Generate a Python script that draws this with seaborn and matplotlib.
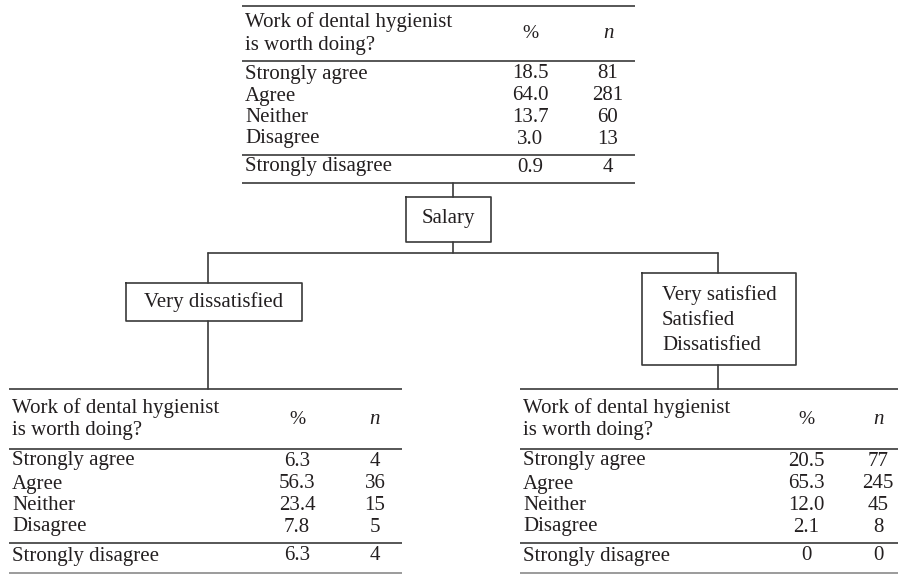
import matplotlib
matplotlib.use("Agg")
import matplotlib.pyplot as plt
import seaborn as sns

# data
responses = ["Strongly agree", "Agree", "Neither", "Disagree", "Strongly disagree"]
overall_pct = [18.5, 64.0, 13.7, 3.0, 0.9]
overall_n = [81, 281, 60, 13, 4]
very_dissat_pct = [6.3, 56.3, 23.4, 7.8, 6.3]
very_dissat_n = [4, 36, 15, 5, 4]
other_pct = [20.5, 65.3, 12.0, 2.1, 0]
other_n = [77, 245, 45, 8, 0]
header = ["Work of dental hygienist\nis worth doing?", "%", "n"]
split_label = "Salary"
branch_labels = ["Very dissatisfied", "Very satisfied\nSatisfied\nDissatisfied"]

sns.set_theme(style="white")
plt.rcParams["font.family"] = ["Liberation Serif", "DejaVu Serif"]
ink = "#231f20"
rule = "#3a3a3a"
fs = 15

fig = plt.figure(figsize=(8.98, 5.75), dpi=100)
ax = fig.add_axes([0, 0, 1, 1])
ax.set_xlim(0, 898)
ax.set_ylim(575, 0)
ax.axis("off")


def fmt(v):
    return f"{v:.1f}" if v else "0"


def table(x0, y0, pct, n, rules, rows, cols=(288, 366), w=393, last="#3a3a3a"):
    for i, dy in enumerate(rules):
        ax.plot([x0, x0 + w], [y0 + dy, y0 + dy], color=last if i == 3 else rule,
                lw=1.2, solid_capstyle="butt")
    hy = y0 + rules[1] / 2
    ax.text(x0 + 3, hy, header[0], fontsize=fs, color=ink, va="center",
            ha="left", linespacing=1.25)
    ax.text(x0 + cols[0], hy, header[1], fontsize=fs - 1, color=ink, va="center", ha="center")
    ax.text(x0 + cols[1], hy, header[2], fontsize=fs, color=ink, va="center", ha="center",
            style="italic")
    for lab, p, k, dy in zip(responses, pct, n, rows):
        ax.text(x0 + 3, y0 + dy, lab, fontsize=fs, color=ink, va="center", ha="left")
        ax.text(x0 + cols[0], y0 + dy, fmt(p), fontsize=fs, color=ink, va="center", ha="center")
        ax.text(x0 + cols[1], y0 + dy, str(k), fontsize=fs, color=ink, va="center", ha="center")


def box(x0, x1, y0, y1):
    ax.plot([x0, x1, x1, x0, x0], [y0, y0, y1, y1, y0], color=rule, lw=1.2)


top_rules = [0, 55, 149, 177]
top_rows = [68, 90, 111, 133, 161]
low_rules = [0, 60, 154, 184]
low_rows = [72, 95, 117, 138, 167]

table(242, 6, overall_pct, overall_n, top_rules, top_rows)
table(9, 389, very_dissat_pct, very_dissat_n, low_rules, low_rows, last="#8a8a8a")
table(520, 389, other_pct, other_n, low_rules, low_rows, cols=(286, 358), last="#8a8a8a")

# tree connectors
ax.plot([453, 453], [183, 197], color=rule, lw=1.2)
box(406, 491, 197, 242)
ax.text(448.5, 219, split_label, fontsize=fs, color=ink, ha="center", va="center")
ax.plot([453, 453], [242, 253], color=rule, lw=1.2)
ax.plot([208, 718], [253, 253], color=rule, lw=1.2)

ax.plot([208, 208], [253, 283], color=rule, lw=1.2)
box(126, 302, 283, 321)
ax.text(214, 302, branch_labels[0], fontsize=fs, color=ink, ha="center", va="center")
ax.plot([208, 208], [321, 389], color=rule, lw=1.2)

ax.plot([718, 718], [253, 273], color=rule, lw=1.2)
box(642, 796, 273, 365)
ax.text(662, 320, branch_labels[1], fontsize=fs, color=ink, ha="left", va="center",
        linespacing=1.4)
ax.plot([718, 718], [365, 389], color=rule, lw=1.2)

fig.savefig("out.png", dpi=100)
